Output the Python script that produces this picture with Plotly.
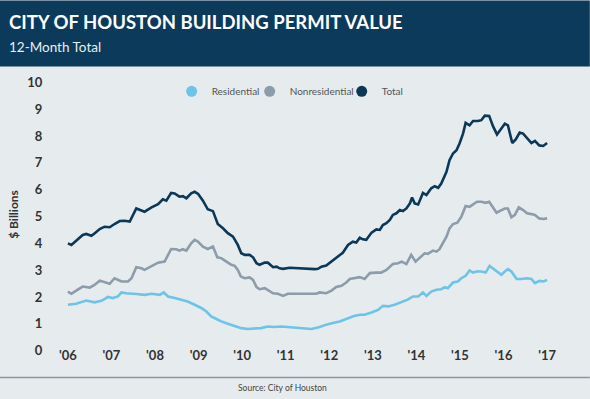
import plotly.graph_objects as go

# ---------------- data (decimal years, $ billions) ----------------
total_x = [2006.00, 2006.08, 2006.19, 2006.34, 2006.42, 2006.54, 2006.61, 2006.73, 2006.84, 2006.96,
           2007.07, 2007.19, 2007.30, 2007.42, 2007.57, 2007.76, 2007.92, 2008.07, 2008.18, 2008.26,
           2008.37, 2008.45, 2008.56, 2008.64, 2008.72, 2008.83, 2008.91, 2008.99, 2009.10, 2009.21,
           2009.33, 2009.44, 2009.56, 2009.67, 2009.79, 2009.90, 2009.98, 2010.06, 2010.17, 2010.25,
           2010.33, 2010.40, 2010.52, 2010.59, 2010.71, 2010.79, 2010.86, 2010.94, 2011.09, 2011.32,
           2011.51, 2011.67, 2011.74, 2011.82, 2011.93, 2012.05, 2012.20, 2012.31, 2012.43, 2012.54,
           2012.62, 2012.70, 2012.77, 2012.85, 2012.97, 2013.08, 2013.16, 2013.23, 2013.31, 2013.39,
           2013.46, 2013.54, 2013.62, 2013.69, 2013.77, 2013.85, 2013.90, 2013.96, 2014.04, 2014.15,
           2014.23, 2014.34, 2014.42, 2014.50, 2014.57, 2014.69, 2014.76, 2014.84, 2014.92, 2014.99,
           2015.07, 2015.13, 2015.22, 2015.30, 2015.41, 2015.49, 2015.57, 2015.67, 2015.76, 2015.85,
           2015.95, 2016.03, 2016.10, 2016.20, 2016.28, 2016.37, 2016.45, 2016.54, 2016.64, 2016.72,
           2016.82, 2016.91, 2017.00]
total_y = [4.00, 3.94, 4.10, 4.31, 4.35, 4.28, 4.37, 4.53, 4.62, 4.60,
           4.72, 4.83, 4.84, 4.81, 5.30, 5.18, 5.34, 5.46, 5.64, 5.59,
           5.88, 5.86, 5.74, 5.76, 5.68, 5.86, 5.92, 5.84, 5.59, 5.27,
           5.20, 4.72, 4.56, 4.38, 4.25, 3.94, 3.63, 3.57, 3.57, 3.48,
           3.26, 3.20, 3.28, 3.28, 3.11, 3.13, 3.07, 3.05, 3.09, 3.06,
           3.06, 3.04, 3.05, 3.13, 3.17, 3.32, 3.48, 3.65, 3.94, 4.06,
           4.03, 4.21, 4.15, 4.13, 4.40, 4.52, 4.50, 4.68, 4.75, 4.87,
           5.06, 5.12, 5.24, 5.20, 5.30, 5.49, 5.71, 5.49, 5.45, 5.88,
           5.80, 6.05, 6.13, 6.07, 6.23, 6.67, 7.10, 7.35, 7.47, 7.72,
           8.09, 8.49, 8.40, 8.56, 8.56, 8.59, 8.76, 8.75, 8.36, 8.06,
           8.28, 8.46, 8.40, 7.74, 7.87, 8.13, 8.09, 7.94, 7.74, 7.82,
           7.65, 7.63, 7.74]

nonres_x = [2006.00, 2006.08, 2006.19, 2006.34, 2006.50, 2006.61, 2006.73, 2006.84, 2006.96, 2007.07,
            2007.15, 2007.23, 2007.38, 2007.46, 2007.57, 2007.69, 2007.76, 2007.92, 2008.07, 2008.22,
            2008.26, 2008.37, 2008.49, 2008.56, 2008.64, 2008.72, 2008.83, 2008.91, 2008.99, 2009.10,
            2009.21, 2009.33, 2009.43, 2009.52, 2009.64, 2009.75, 2009.83, 2009.90, 2009.97, 2010.06,
            2010.17, 2010.25, 2010.33, 2010.40, 2010.52, 2010.59, 2010.71, 2010.82, 2010.94, 2011.05,
            2011.32, 2011.55, 2011.70, 2011.78, 2011.93, 2012.05, 2012.16, 2012.28, 2012.39, 2012.47,
            2012.58, 2012.70, 2012.81, 2012.93, 2013.08, 2013.19, 2013.31, 2013.46, 2013.58, 2013.66,
            2013.77, 2013.88, 2013.98, 2014.07, 2014.19, 2014.26, 2014.38, 2014.46, 2014.53, 2014.69,
            2014.76, 2014.84, 2014.94, 2015.03, 2015.13, 2015.22, 2015.30, 2015.39, 2015.49, 2015.59,
            2015.67, 2015.76, 2015.84, 2015.93, 2016.03, 2016.10, 2016.18, 2016.26, 2016.35, 2016.45,
            2016.54, 2016.64, 2016.72, 2016.82, 2016.91, 2017.00]
nonres_y = [2.20, 2.12, 2.24, 2.39, 2.35, 2.45, 2.61, 2.54, 2.49, 2.70,
            2.64, 2.58, 2.58, 2.70, 3.11, 3.07, 3.01, 3.16, 3.28, 3.32,
            3.45, 3.79, 3.78, 3.73, 3.78, 3.73, 4.00, 4.13, 4.06, 3.88,
            3.79, 3.88, 3.48, 3.45, 3.32, 3.20, 3.16, 3.01, 2.76, 2.70,
            2.73, 2.64, 2.37, 2.29, 2.33, 2.27, 2.14, 2.12, 2.04, 2.12,
            2.12, 2.14, 2.12, 2.17, 2.14, 2.24, 2.37, 2.42, 2.54, 2.67,
            2.70, 2.74, 2.67, 2.89, 2.91, 2.91, 3.01, 3.23, 3.26, 3.32,
            3.23, 3.57, 3.32, 3.45, 3.63, 3.61, 3.73, 3.69, 3.78, 4.25,
            4.56, 4.72, 4.77, 4.99, 5.39, 5.36, 5.46, 5.55, 5.55, 5.51,
            5.55, 5.34, 5.14, 5.22, 5.30, 5.30, 4.97, 5.06, 5.34, 5.24,
            5.12, 5.09, 5.06, 4.93, 4.91, 4.93]

res_x = [2006.00, 2006.19, 2006.42, 2006.61, 2006.77, 2006.92, 2007.03, 2007.15, 2007.23, 2007.34,
         2007.57, 2007.76, 2007.92, 2008.11, 2008.20, 2008.30, 2008.45, 2008.60, 2008.75, 2008.91,
         2009.06, 2009.18, 2009.29, 2009.41, 2009.52, 2009.67, 2009.83, 2009.98, 2010.13, 2010.28,
         2010.43, 2010.59, 2010.74, 2010.90, 2011.13, 2011.36, 2011.59, 2011.78, 2011.93, 2012.08,
         2012.24, 2012.39, 2012.55, 2012.70, 2012.81, 2012.97, 2013.12, 2013.23, 2013.35, 2013.50,
         2013.65, 2013.80, 2013.92, 2014.04, 2014.15, 2014.23, 2014.34, 2014.46, 2014.57, 2014.65,
         2014.72, 2014.84, 2014.95, 2015.03, 2015.13, 2015.22, 2015.30, 2015.38, 2015.49, 2015.59,
         2015.68, 2015.76, 2015.85, 2015.95, 2016.03, 2016.10, 2016.18, 2016.30, 2016.41, 2016.53,
         2016.64, 2016.72, 2016.83, 2016.92, 2017.00]
res_y = [1.71, 1.75, 1.87, 1.80, 1.86, 2.00, 1.96, 2.02, 2.17, 2.14,
         2.11, 2.08, 2.12, 2.08, 2.17, 2.02, 1.96, 1.90, 1.83, 1.71,
         1.59, 1.46, 1.28, 1.18, 1.09, 1.00, 0.93, 0.84, 0.81, 0.82,
         0.84, 0.90, 0.88, 0.90, 0.87, 0.84, 0.81, 0.88, 0.97, 1.03,
         1.09, 1.18, 1.28, 1.34, 1.34, 1.42, 1.52, 1.67, 1.65, 1.71,
         1.80, 1.90, 2.02, 2.02, 2.17, 2.04, 2.20, 2.27, 2.29, 2.37,
         2.33, 2.54, 2.58, 2.70, 2.79, 2.99, 2.91, 2.95, 2.95, 2.91,
         3.16, 3.07, 2.95, 2.83, 2.95, 3.04, 2.95, 2.67, 2.67, 2.70,
         2.67, 2.52, 2.60, 2.58, 2.64]

series_names = ["Residential", "Nonresidential", "Total"]
year_ticks = [2006, 2007, 2008, 2009, 2010, 2011, 2012, 2013, 2014, 2015, 2016, 2017]
year_labels = ["'06", "'07", "'08", "'09", "'10", "'11", "'12", "'13", "'14", "'15", "'16", "'17"]
y_ticks = [0, 1, 2, 3, 4, 5, 6, 7, 8, 9, 10]

# ---------------- styling ----------------
W, H = 590, 399
L, R, T, B = 57.4, 558.2, 76.6, 352.4
BG = "#e6ebee"
NAVY = "#0b3a5b"
colors = {"Residential": "#6ec3e8", "Nonresidential": "#8c9cab", "Total": "#0c3858"}
legend_ids = {"Residential": "legend", "Nonresidential": "legend2", "Total": "legend3"}
legend_px = {"Residential": 172, "Nonresidential": 250, "Total": 342}
FONT = "Lato"


def fx(px):
    return (px - L) / (R - L)


def fy(py):
    return (B - py) / (B - T)


fig = go.Figure()
for name, xs, ys in [("Residential", res_x, res_y),
                     ("Nonresidential", nonres_x, nonres_y),
                     ("Total", total_x, total_y)]:
    fig.add_trace(go.Scatter(x=xs, y=ys, mode="lines", name=name, showlegend=False,
                             line=dict(color=colors[name], width=2.6), hoverinfo="skip"))
for name in series_names:
    fig.add_trace(go.Scatter(x=[None], y=[None], mode="markers", name=name,
                             legend=legend_ids[name],
                             marker=dict(color=colors[name], size=11, symbol="circle")))

legend_common = dict(orientation="h", xanchor="left", yanchor="middle", y=fy(91),
                     font=dict(size=10, color="#555555", family=FONT),
                     bgcolor="rgba(0,0,0,0)", borderwidth=0, itemwidth=30)

fig.update_layout(
    width=W, height=H,
    margin=dict(l=L, r=W - R, t=T, b=H - B, pad=0),
    paper_bgcolor=BG, plot_bgcolor=BG,
    font=dict(family=FONT, color="#333333"),
    legend=dict(legend_common, x=fx(legend_px["Residential"])),
    legend2=dict(legend_common, x=fx(legend_px["Nonresidential"])),
    legend3=dict(legend_common, x=fx(legend_px["Total"])),
    xaxis=dict(range=[2005.75, 2017.25], tickmode="array", tickvals=year_ticks, ticktext=year_labels,
               showgrid=False, zeroline=False, showline=False, ticks="",
               tickfont=dict(size=13, color="#333333", family=FONT, weight=700),
               ticklabelstandoff=-6),
    yaxis=dict(range=[-0.05, 10.2], tickmode="array", tickvals=y_ticks,
               showgrid=False, zeroline=False, showline=False,
               ticks="outside", ticklen=11, tickcolor="rgba(0,0,0,0)",
               tickfont=dict(size=13, color="#333333", family=FONT, weight=700),
               automargin=False,
               title=dict(text="$ Billions", font=dict(size=12, color="#333333", family=FONT, weight=700),
                          standoff=6)),
    shapes=[
        dict(type="rect", xref="paper", yref="paper", x0=fx(0), x1=fx(W), y0=fy(66), y1=fy(0),
             fillcolor=NAVY, line=dict(width=0), layer="above"),
        dict(type="line", xref="paper", yref="paper", x0=fx(0), x1=fx(W), y0=fy(378), y1=fy(378),
             line=dict(color="#8d969d", width=1.5)),
    ],
    annotations=[
        dict(text="CITY OF HOUSTON BUILDING PERMIT VALUE", xref="paper", yref="paper",
             x=fx(7), y=fy(21), xanchor="left", yanchor="middle", showarrow=False,
             font=dict(size=18.5, color="white", family=FONT, weight=700)),
        dict(text="12-Month Total", xref="paper", yref="paper",
             x=fx(7), y=fy(47), xanchor="left", yanchor="middle", showarrow=False,
             font=dict(size=13.5, color="#e8eef2", family=FONT)),
        dict(text="Source: City of Houston", xref="paper", yref="paper",
             x=fx(283), y=fy(389), xanchor="center", yanchor="middle", showarrow=False,
             font=dict(size=8.5, color="#444444", family=FONT)),
    ],
)

fig.write_html("out.html", config={"displayModeBar": False},
               post_script="document.body.style.margin='0';")
